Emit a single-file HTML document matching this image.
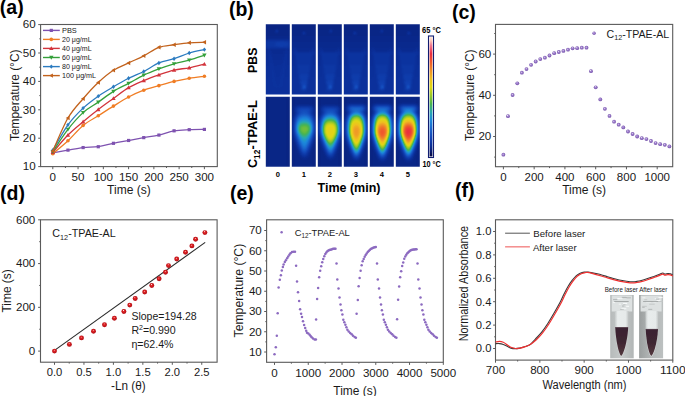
<!DOCTYPE html>
<html><head><meta charset="utf-8"><style>
html,body{margin:0;padding:0;background:#fff;}
svg{display:block;font-family:"Liberation Sans", sans-serif;}
</style></head><body>
<svg width="685" height="396" viewBox="0 0 685 396" fill="#1a1a1a">
<defs><radialGradient id="sp" cx="0.5" cy="0.5" r="0.5" fx="0.38" fy="0.32"><stop offset="0" stop-color="#f2ecfa"/><stop offset="0.35" stop-color="#a688d2"/><stop offset="1" stop-color="#7452aa"/></radialGradient>
<radialGradient id="rs" cx="0.5" cy="0.5" r="0.5" fx="0.42" fy="0.3"><stop offset="0" stop-color="#fff4f4"/><stop offset="0.28" stop-color="#e42a2a"/><stop offset="1" stop-color="#b00810"/></radialGradient>
<filter id="heat" color-interpolation-filters="sRGB" x="-20%" y="-20%" width="140%" height="140%"><feGaussianBlur stdDeviation="1.9"/><feComponentTransfer><feFuncR type="table" tableValues="0.024 0.027 0.030 0.033 0.035 0.038 0.042 0.049 0.056 0.063 0.070 0.077 0.084 0.091 0.098 0.103 0.105 0.106 0.108 0.111 0.122 0.132 0.143 0.154 0.176 0.205 0.233 0.262 0.302 0.373 0.445 0.516 0.587 0.652 0.716 0.780 0.844 0.885 0.899 0.913 0.928 0.941 0.941 0.941 0.941 0.941 0.941 0.941 0.941 0.941 0.940 0.935 0.929 0.924 0.919 0.922 0.927 0.933 0.938 0.949 0.968 0.986 0.994 1.000"/><feFuncG type="table" tableValues="0.024 0.055 0.086 0.114 0.139 0.164 0.187 0.209 0.230 0.251 0.273 0.299 0.326 0.352 0.379 0.408 0.440 0.473 0.505 0.536 0.565 0.593 0.622 0.650 0.666 0.677 0.688 0.698 0.711 0.729 0.746 0.764 0.782 0.797 0.811 0.825 0.839 0.837 0.816 0.795 0.773 0.751 0.708 0.665 0.623 0.580 0.534 0.486 0.438 0.390 0.344 0.303 0.262 0.221 0.180 0.228 0.296 0.363 0.431 0.522 0.646 0.771 0.840 0.902"/><feFuncB type="table" tableValues="0.251 0.319 0.388 0.450 0.505 0.559 0.605 0.634 0.662 0.691 0.719 0.738 0.756 0.774 0.791 0.807 0.821 0.836 0.850 0.859 0.820 0.781 0.741 0.702 0.631 0.546 0.461 0.375 0.304 0.268 0.233 0.197 0.161 0.141 0.124 0.106 0.088 0.083 0.094 0.105 0.115 0.126 0.133 0.140 0.147 0.154 0.159 0.163 0.166 0.170 0.177 0.194 0.212 0.230 0.248 0.309 0.380 0.452 0.523 0.590 0.652 0.715 0.781 0.847"/></feComponentTransfer></filter>
<filter id="heatp" color-interpolation-filters="sRGB" x="-20%" y="-20%" width="140%" height="140%"><feGaussianBlur stdDeviation="1.2"/><feComponentTransfer><feFuncR type="table" tableValues="0.024 0.027 0.030 0.033 0.035 0.038 0.042 0.049 0.056 0.063 0.070 0.077 0.084 0.091 0.098 0.103 0.105 0.106 0.108 0.111 0.122 0.132 0.143 0.154 0.176 0.205 0.233 0.262 0.302 0.373 0.445 0.516 0.587 0.652 0.716 0.780 0.844 0.885 0.899 0.913 0.928 0.941 0.941 0.941 0.941 0.941 0.941 0.941 0.941 0.941 0.940 0.935 0.929 0.924 0.919 0.922 0.927 0.933 0.938 0.949 0.968 0.986 0.994 1.000"/><feFuncG type="table" tableValues="0.024 0.055 0.086 0.114 0.139 0.164 0.187 0.209 0.230 0.251 0.273 0.299 0.326 0.352 0.379 0.408 0.440 0.473 0.505 0.536 0.565 0.593 0.622 0.650 0.666 0.677 0.688 0.698 0.711 0.729 0.746 0.764 0.782 0.797 0.811 0.825 0.839 0.837 0.816 0.795 0.773 0.751 0.708 0.665 0.623 0.580 0.534 0.486 0.438 0.390 0.344 0.303 0.262 0.221 0.180 0.228 0.296 0.363 0.431 0.522 0.646 0.771 0.840 0.902"/><feFuncB type="table" tableValues="0.251 0.319 0.388 0.450 0.505 0.559 0.605 0.634 0.662 0.691 0.719 0.738 0.756 0.774 0.791 0.807 0.821 0.836 0.850 0.859 0.820 0.781 0.741 0.702 0.631 0.546 0.461 0.375 0.304 0.268 0.233 0.197 0.161 0.141 0.124 0.106 0.088 0.083 0.094 0.105 0.115 0.126 0.133 0.140 0.147 0.154 0.159 0.163 0.166 0.170 0.177 0.194 0.212 0.230 0.248 0.309 0.380 0.452 0.523 0.590 0.652 0.715 0.781 0.847"/></feComponentTransfer></filter>
<linearGradient id="cbar" x1="0" y1="0" x2="0" y2="1"><stop offset="0" stop-color="#ffe6d8"/><stop offset="0.03" stop-color="#fcc8b8"/><stop offset="0.07" stop-color="#f07890"/><stop offset="0.14" stop-color="#ea2c40"/><stop offset="0.21" stop-color="#f05a2c"/><stop offset="0.28" stop-color="#f09028"/><stop offset="0.35" stop-color="#f0c020"/><stop offset="0.42" stop-color="#e0d814"/><stop offset="0.49" stop-color="#98c828"/><stop offset="0.56" stop-color="#48b450"/><stop offset="0.63" stop-color="#28a8b0"/><stop offset="0.7" stop-color="#1c88dc"/><stop offset="0.77" stop-color="#1a64cc"/><stop offset="0.84" stop-color="#1246b8"/><stop offset="0.91" stop-color="#0a2e98"/><stop offset="0.96" stop-color="#081a6c"/><stop offset="1" stop-color="#060640"/></linearGradient>
<clipPath id="cl00"><rect x="265.8" y="24.2" width="24" height="70.4"/></clipPath>
<clipPath id="cl10"><rect x="265.8" y="96.7" width="24" height="70"/></clipPath>
<clipPath id="cl01"><rect x="291.8" y="24.2" width="24" height="70.4"/></clipPath>
<clipPath id="cl11"><rect x="291.8" y="96.7" width="24" height="70"/></clipPath>
<clipPath id="cl02"><rect x="317.8" y="24.2" width="24" height="70.4"/></clipPath>
<clipPath id="cl12"><rect x="317.8" y="96.7" width="24" height="70"/></clipPath>
<clipPath id="cl03"><rect x="343.8" y="24.2" width="24" height="70.4"/></clipPath>
<clipPath id="cl13"><rect x="343.8" y="96.7" width="24" height="70"/></clipPath>
<clipPath id="cl04"><rect x="369.8" y="24.2" width="24" height="70.4"/></clipPath>
<clipPath id="cl14"><rect x="369.8" y="96.7" width="24" height="70"/></clipPath>
<clipPath id="cl05"><rect x="395.8" y="24.2" width="24" height="70.4"/></clipPath>
<clipPath id="cl15"><rect x="395.8" y="96.7" width="24" height="70"/></clipPath>
<linearGradient id="pbsv" x1="0" y1="0" x2="0" y2="1"><stop offset="0" stop-color="#101010"/><stop offset="0.3" stop-color="#141414"/><stop offset="0.6" stop-color="#181818"/><stop offset="1" stop-color="#1a1a1a"/></linearGradient>
<linearGradient id="ph1" x1="0" y1="0" x2="1" y2="0"><stop offset="0" stop-color="#b6baba"/><stop offset="0.5" stop-color="#c6caca"/><stop offset="1" stop-color="#b2b6b6"/></linearGradient>
<linearGradient id="ph2" x1="0" y1="0" x2="1" y2="0"><stop offset="0" stop-color="#9a9e9e"/><stop offset="0.5" stop-color="#b4b8b8"/><stop offset="1" stop-color="#bcc0c0"/></linearGradient>
<linearGradient id="tb" x1="0" y1="0" x2="1" y2="0"><stop offset="0" stop-color="#c4c8c8"/><stop offset="0.2" stop-color="#e8ecec"/><stop offset="0.8" stop-color="#e6eaea"/><stop offset="1" stop-color="#c0c4c4"/></linearGradient>
<linearGradient id="liq" x1="0" y1="0" x2="0" y2="1"><stop offset="0" stop-color="#3a2230"/><stop offset="0.5" stop-color="#3e2632"/><stop offset="1" stop-color="#54383e"/></linearGradient>
<filter id="soft" x="-10%" y="-10%" width="120%" height="120%"><feGaussianBlur stdDeviation="0.5"/></filter></defs>
<rect width="685" height="396" fill="#fff"/>
<rect x="40.6" y="24.5" width="176.7" height="142.1" fill="none" stroke="#5a5a5a" stroke-width="1.1"/>
<line x1="52.8" y1="166.6" x2="52.8" y2="169.2" stroke="#5a5a5a" stroke-width="1" />
<line x1="78.06" y1="166.6" x2="78.06" y2="169.2" stroke="#5a5a5a" stroke-width="1" />
<line x1="103.33" y1="166.6" x2="103.33" y2="169.2" stroke="#5a5a5a" stroke-width="1" />
<line x1="128.59" y1="166.6" x2="128.59" y2="169.2" stroke="#5a5a5a" stroke-width="1" />
<line x1="153.86" y1="166.6" x2="153.86" y2="169.2" stroke="#5a5a5a" stroke-width="1" />
<line x1="179.12" y1="166.6" x2="179.12" y2="169.2" stroke="#5a5a5a" stroke-width="1" />
<line x1="204.39" y1="166.6" x2="204.39" y2="169.2" stroke="#5a5a5a" stroke-width="1" />
<line x1="65.43" y1="166.6" x2="65.43" y2="168" stroke="#5a5a5a" stroke-width="1" />
<line x1="90.7" y1="166.6" x2="90.7" y2="168" stroke="#5a5a5a" stroke-width="1" />
<line x1="115.96" y1="166.6" x2="115.96" y2="168" stroke="#5a5a5a" stroke-width="1" />
<line x1="141.23" y1="166.6" x2="141.23" y2="168" stroke="#5a5a5a" stroke-width="1" />
<line x1="166.49" y1="166.6" x2="166.49" y2="168" stroke="#5a5a5a" stroke-width="1" />
<line x1="191.76" y1="166.6" x2="191.76" y2="168" stroke="#5a5a5a" stroke-width="1" />
<line x1="38.2" y1="166.6" x2="40.6" y2="166.6" stroke="#5a5a5a" stroke-width="1" />
<line x1="38.2" y1="138.2" x2="40.6" y2="138.2" stroke="#5a5a5a" stroke-width="1" />
<line x1="38.2" y1="109.8" x2="40.6" y2="109.8" stroke="#5a5a5a" stroke-width="1" />
<line x1="38.2" y1="81.4" x2="40.6" y2="81.4" stroke="#5a5a5a" stroke-width="1" />
<line x1="38.2" y1="53" x2="40.6" y2="53" stroke="#5a5a5a" stroke-width="1" />
<line x1="38.2" y1="24.6" x2="40.6" y2="24.6" stroke="#5a5a5a" stroke-width="1" />
<line x1="39.3" y1="152.4" x2="40.6" y2="152.4" stroke="#5a5a5a" stroke-width="1" />
<line x1="39.3" y1="124" x2="40.6" y2="124" stroke="#5a5a5a" stroke-width="1" />
<line x1="39.3" y1="95.6" x2="40.6" y2="95.6" stroke="#5a5a5a" stroke-width="1" />
<line x1="39.3" y1="67.2" x2="40.6" y2="67.2" stroke="#5a5a5a" stroke-width="1" />
<line x1="39.3" y1="38.8" x2="40.6" y2="38.8" stroke="#5a5a5a" stroke-width="1" />
<text x="52.8" y="180.9" font-size="11.6" text-anchor="middle" textLength="6.45" lengthAdjust="spacingAndGlyphs" >0</text>
<text x="78.06" y="180.9" font-size="11.6" text-anchor="middle" textLength="12.9" lengthAdjust="spacingAndGlyphs" >50</text>
<text x="103.33" y="180.9" font-size="11.6" text-anchor="middle" textLength="19.35" lengthAdjust="spacingAndGlyphs" >100</text>
<text x="128.59" y="180.9" font-size="11.6" text-anchor="middle" textLength="19.35" lengthAdjust="spacingAndGlyphs" >150</text>
<text x="153.86" y="180.9" font-size="11.6" text-anchor="middle" textLength="19.35" lengthAdjust="spacingAndGlyphs" >200</text>
<text x="179.12" y="180.9" font-size="11.6" text-anchor="middle" textLength="19.35" lengthAdjust="spacingAndGlyphs" >250</text>
<text x="204.39" y="180.9" font-size="11.6" text-anchor="middle" textLength="19.35" lengthAdjust="spacingAndGlyphs" >300</text>
<text x="35.6" y="170.4" font-size="11.6" text-anchor="end" textLength="12.9" lengthAdjust="spacingAndGlyphs" >10</text>
<text x="35.6" y="142" font-size="11.6" text-anchor="end" textLength="12.9" lengthAdjust="spacingAndGlyphs" >20</text>
<text x="35.6" y="113.6" font-size="11.6" text-anchor="end" textLength="12.9" lengthAdjust="spacingAndGlyphs" >30</text>
<text x="35.6" y="85.2" font-size="11.6" text-anchor="end" textLength="12.9" lengthAdjust="spacingAndGlyphs" >40</text>
<text x="35.6" y="56.8" font-size="11.6" text-anchor="end" textLength="12.9" lengthAdjust="spacingAndGlyphs" >50</text>
<text x="35.6" y="28.4" font-size="11.6" text-anchor="end" textLength="12.9" lengthAdjust="spacingAndGlyphs" >60</text>
<text x="128.9" y="194.4" font-size="12" text-anchor="middle" textLength="43.6" lengthAdjust="spacingAndGlyphs" >Time (s)</text>
<text x="19.4" y="95.3" font-size="12" text-anchor="middle" textLength="91.5" lengthAdjust="spacingAndGlyphs" transform="rotate(-90 19.4 95.3)" >Temperature (&#176;C)</text>
<path d="M52.8 152.97 C55.33 152.49 62.91 151.03 67.96 150.13 C73.01 149.23 78.06 148.14 83.12 147.57 C88.17 147 93.22 147.43 98.28 146.72 C103.33 146.01 108.38 144.35 113.44 143.31 C118.49 142.27 123.54 141.42 128.59 140.47 C133.65 139.53 138.7 138.53 143.75 137.63 C148.81 136.73 153.86 136.21 158.91 135.08 C163.97 133.94 169.02 131.72 174.07 130.82 C179.12 129.92 184.18 129.92 189.23 129.68 C194.28 129.44 201.86 129.44 204.39 129.4" fill="none" stroke="#7e52b0" stroke-width="1.3"/>
<rect x="51.2" y="151.37" width="3.2" height="3.2" fill="#7e52b0"/>
<rect x="66.36" y="148.53" width="3.2" height="3.2" fill="#7e52b0"/>
<rect x="81.52" y="145.97" width="3.2" height="3.2" fill="#7e52b0"/>
<rect x="96.68" y="145.12" width="3.2" height="3.2" fill="#7e52b0"/>
<rect x="111.84" y="141.71" width="3.2" height="3.2" fill="#7e52b0"/>
<rect x="127" y="138.87" width="3.2" height="3.2" fill="#7e52b0"/>
<rect x="142.15" y="136.03" width="3.2" height="3.2" fill="#7e52b0"/>
<rect x="157.31" y="133.48" width="3.2" height="3.2" fill="#7e52b0"/>
<rect x="172.47" y="129.22" width="3.2" height="3.2" fill="#7e52b0"/>
<rect x="187.63" y="128.08" width="3.2" height="3.2" fill="#7e52b0"/>
<rect x="202.79" y="127.8" width="3.2" height="3.2" fill="#7e52b0"/>
<path d="M52.8 153.82 C55.33 151.64 62.91 145.49 67.96 140.76 C73.01 136.02 78.06 129.59 83.12 125.42 C88.17 121.25 93.22 118.98 98.28 115.76 C103.33 112.55 108.38 109.23 113.44 106.11 C118.49 102.98 123.54 99.67 128.59 97.02 C133.65 94.37 138.7 92.1 143.75 90.2 C148.81 88.31 153.86 87.13 158.91 85.66 C163.97 84.19 169.02 82.63 174.07 81.4 C179.12 80.17 184.18 79.13 189.23 78.28 C194.28 77.42 201.86 76.62 204.39 76.29" fill="none" stroke="#f07d24" stroke-width="1.3"/>
<circle cx="52.8" cy="153.82" r="1.8" fill="#f07d24"/>
<circle cx="67.96" cy="140.76" r="1.8" fill="#f07d24"/>
<circle cx="83.12" cy="125.42" r="1.8" fill="#f07d24"/>
<circle cx="98.28" cy="115.76" r="1.8" fill="#f07d24"/>
<circle cx="113.44" cy="106.11" r="1.8" fill="#f07d24"/>
<circle cx="128.59" cy="97.02" r="1.8" fill="#f07d24"/>
<circle cx="143.75" cy="90.2" r="1.8" fill="#f07d24"/>
<circle cx="158.91" cy="85.66" r="1.8" fill="#f07d24"/>
<circle cx="174.07" cy="81.4" r="1.8" fill="#f07d24"/>
<circle cx="189.23" cy="78.28" r="1.8" fill="#f07d24"/>
<circle cx="204.39" cy="76.29" r="1.8" fill="#f07d24"/>
<path d="M52.8 152.4 C55.33 149.51 62.91 140.19 67.96 135.08 C73.01 129.96 78.06 125.99 83.12 121.73 C88.17 117.47 93.22 113.4 98.28 109.52 C103.33 105.63 108.38 102.08 113.44 98.44 C118.49 94.8 123.54 90.63 128.59 87.65 C133.65 84.67 138.7 82.68 143.75 80.55 C148.81 78.42 153.86 76.62 158.91 74.87 C163.97 73.12 169.02 71.22 174.07 70.04 C179.12 68.86 184.18 68.76 189.23 67.77 C194.28 66.77 201.86 64.69 204.39 64.08" fill="none" stroke="#d2343c" stroke-width="1.3"/>
<path d="M52.8 150.2L55 154.05L50.6 154.05Z" fill="#d2343c"/>
<path d="M67.96 132.88L70.16 136.73L65.76 136.73Z" fill="#d2343c"/>
<path d="M83.12 119.53L85.32 123.38L80.92 123.38Z" fill="#d2343c"/>
<path d="M98.28 107.32L100.48 111.17L96.08 111.17Z" fill="#d2343c"/>
<path d="M113.44 96.24L115.64 100.09L111.24 100.09Z" fill="#d2343c"/>
<path d="M128.59 85.45L130.79 89.3L126.39 89.3Z" fill="#d2343c"/>
<path d="M143.75 78.35L145.95 82.2L141.55 82.2Z" fill="#d2343c"/>
<path d="M158.91 72.67L161.11 76.52L156.71 76.52Z" fill="#d2343c"/>
<path d="M174.07 67.84L176.27 71.69L171.87 71.69Z" fill="#d2343c"/>
<path d="M189.23 65.57L191.43 69.42L187.03 69.42Z" fill="#d2343c"/>
<path d="M204.39 61.88L206.59 65.73L202.19 65.73Z" fill="#d2343c"/>
<path d="M52.8 151.55 C55.33 147.86 62.91 135.88 67.96 129.4 C73.01 122.91 78.06 117.18 83.12 112.64 C88.17 108.1 93.22 105.68 98.28 102.13 C103.33 98.58 108.38 94.46 113.44 91.34 C118.49 88.22 123.54 86.09 128.59 83.39 C133.65 80.69 138.7 77.57 143.75 75.15 C148.81 72.74 153.86 70.8 158.91 68.9 C163.97 67.01 169.02 65.26 174.07 63.79 C179.12 62.32 184.18 61.52 189.23 60.1 C194.28 58.68 201.86 56.08 204.39 55.27" fill="none" stroke="#34a03a" stroke-width="1.3"/>
<path d="M52.8 153.75L55 149.9L50.6 149.9Z" fill="#34a03a"/>
<path d="M67.96 131.6L70.16 127.75L65.76 127.75Z" fill="#34a03a"/>
<path d="M83.12 114.84L85.32 110.99L80.92 110.99Z" fill="#34a03a"/>
<path d="M98.28 104.33L100.48 100.48L96.08 100.48Z" fill="#34a03a"/>
<path d="M113.44 93.54L115.64 89.69L111.24 89.69Z" fill="#34a03a"/>
<path d="M128.59 85.59L130.79 81.74L126.39 81.74Z" fill="#34a03a"/>
<path d="M143.75 77.35L145.95 73.5L141.55 73.5Z" fill="#34a03a"/>
<path d="M158.91 71.1L161.11 67.25L156.71 67.25Z" fill="#34a03a"/>
<path d="M174.07 65.99L176.27 62.14L171.87 62.14Z" fill="#34a03a"/>
<path d="M189.23 62.3L191.43 58.45L187.03 58.45Z" fill="#34a03a"/>
<path d="M204.39 57.47L206.59 53.62L202.19 53.62Z" fill="#34a03a"/>
<path d="M52.8 150.13 C55.33 145.92 62.91 131.86 67.96 124.85 C73.01 117.85 78.06 112.88 83.12 108.1 C88.17 103.32 93.22 99.72 98.28 96.17 C103.33 92.62 108.38 89.78 113.44 86.8 C118.49 83.81 123.54 80.83 128.59 78.28 C133.65 75.72 138.7 74.02 143.75 71.46 C148.81 68.9 153.86 65.07 158.91 62.94 C163.97 60.81 169.02 60.34 174.07 58.68 C179.12 57.02 184.18 54.51 189.23 53 C194.28 51.49 201.86 50.16 204.39 49.59" fill="none" stroke="#2b7bc0" stroke-width="1.3"/>
<path d="M52.8 147.93L54.56 150.13L52.8 152.33L51.04 150.13Z" fill="#2b7bc0"/>
<path d="M67.96 122.65L69.72 124.85L67.96 127.05L66.2 124.85Z" fill="#2b7bc0"/>
<path d="M83.12 105.9L84.88 108.1L83.12 110.3L81.36 108.1Z" fill="#2b7bc0"/>
<path d="M98.28 93.97L100.04 96.17L98.28 98.37L96.52 96.17Z" fill="#2b7bc0"/>
<path d="M113.44 84.6L115.2 86.8L113.44 89L111.68 86.8Z" fill="#2b7bc0"/>
<path d="M128.59 76.08L130.35 78.28L128.59 80.48L126.83 78.28Z" fill="#2b7bc0"/>
<path d="M143.75 69.26L145.51 71.46L143.75 73.66L141.99 71.46Z" fill="#2b7bc0"/>
<path d="M158.91 60.74L160.67 62.94L158.91 65.14L157.15 62.94Z" fill="#2b7bc0"/>
<path d="M174.07 56.48L175.83 58.68L174.07 60.88L172.31 58.68Z" fill="#2b7bc0"/>
<path d="M189.23 50.8L190.99 53L189.23 55.2L187.47 53Z" fill="#2b7bc0"/>
<path d="M204.39 47.39L206.15 49.59L204.39 51.79L202.63 49.59Z" fill="#2b7bc0"/>
<path d="M52.8 150.98 C55.33 145.49 62.91 126.75 67.96 118.04 C73.01 109.33 78.06 104.64 83.12 98.72 C88.17 92.81 93.22 87.27 98.28 82.54 C103.33 77.8 108.38 73.59 113.44 70.32 C118.49 67.06 123.54 65.35 128.59 62.94 C133.65 60.53 138.7 58.44 143.75 55.84 C148.81 53.24 153.86 49.17 158.91 47.32 C163.97 45.47 169.02 45.52 174.07 44.76 C179.12 44.01 184.18 43.2 189.23 42.78 C194.28 42.35 201.86 42.3 204.39 42.21" fill="none" stroke="#c2621c" stroke-width="1.3"/>
<path d="M50.6 150.98L54.45 148.78L54.45 153.18Z" fill="#c2621c"/>
<path d="M65.76 118.04L69.61 115.84L69.61 120.24Z" fill="#c2621c"/>
<path d="M80.92 98.72L84.77 96.52L84.77 100.92Z" fill="#c2621c"/>
<path d="M96.08 82.54L99.93 80.34L99.93 84.74Z" fill="#c2621c"/>
<path d="M111.24 70.32L115.09 68.12L115.09 72.52Z" fill="#c2621c"/>
<path d="M126.39 62.94L130.25 60.74L130.25 65.14Z" fill="#c2621c"/>
<path d="M141.55 55.84L145.4 53.64L145.4 58.04Z" fill="#c2621c"/>
<path d="M156.71 47.32L160.56 45.12L160.56 49.52Z" fill="#c2621c"/>
<path d="M171.87 44.76L175.72 42.56L175.72 46.96Z" fill="#c2621c"/>
<path d="M187.03 42.78L190.88 40.58L190.88 44.98Z" fill="#c2621c"/>
<path d="M202.19 42.21L206.04 40.01L206.04 44.41Z" fill="#c2621c"/>
<line x1="43" y1="30.4" x2="59.8" y2="30.4" stroke="#7e52b0" stroke-width="1.4"/>
<rect x="49.7" y="28.8" width="3.2" height="3.2" fill="#7e52b0"/>
<text x="62" y="33" font-size="7.2" text-anchor="start" textLength="14.8" lengthAdjust="spacingAndGlyphs" >PBS</text>
<line x1="43" y1="39.4" x2="59.8" y2="39.4" stroke="#f07d24" stroke-width="1.4"/>
<circle cx="51.3" cy="39.4" r="1.8" fill="#f07d24"/>
<text x="62" y="42" font-size="7.2" text-anchor="start" textLength="29.6" lengthAdjust="spacingAndGlyphs" >20 &#956;g/mL</text>
<line x1="43" y1="48.4" x2="59.8" y2="48.4" stroke="#d2343c" stroke-width="1.4"/>
<path d="M51.3 46.2L53.5 50.05L49.1 50.05Z" fill="#d2343c"/>
<text x="62" y="51" font-size="7.2" text-anchor="start" textLength="29.6" lengthAdjust="spacingAndGlyphs" >40 &#956;g/mL</text>
<line x1="43" y1="57.5" x2="59.8" y2="57.5" stroke="#34a03a" stroke-width="1.4"/>
<path d="M51.3 59.7L53.5 55.85L49.1 55.85Z" fill="#34a03a"/>
<text x="62" y="60.1" font-size="7.2" text-anchor="start" textLength="29.6" lengthAdjust="spacingAndGlyphs" >60 &#956;g/mL</text>
<line x1="43" y1="66.6" x2="59.8" y2="66.6" stroke="#2b7bc0" stroke-width="1.4"/>
<path d="M51.3 64.4L53.06 66.6L51.3 68.8L49.54 66.6Z" fill="#2b7bc0"/>
<text x="62" y="69.2" font-size="7.2" text-anchor="start" textLength="29.6" lengthAdjust="spacingAndGlyphs" >80 &#956;g/mL</text>
<line x1="43" y1="75.6" x2="59.8" y2="75.6" stroke="#c2621c" stroke-width="1.4"/>
<path d="M49.1 75.6L52.95 73.4L52.95 77.8Z" fill="#c2621c"/>
<text x="62" y="78.2" font-size="7.2" text-anchor="start" textLength="34.1" lengthAdjust="spacingAndGlyphs" >100 &#956;g/mL</text>
<g clip-path="url(#cl00)"><g filter="url(#heatp)">
<rect x="261.8" y="20.2" width="32" height="78.4" fill="url(#pbsv)"/>
<rect x="265.8" y="40.2" width="24" height="8" fill="#1d1d1d"/>
<ellipse cx="281.8" cy="44.2" rx="7" ry="3" fill="#222222"/>
<path d="M268.8 48.2 L274.8 86.2 L280.8 86.2 L286.8 48.2" fill="none" stroke="#1f1f1f" stroke-width="0.7"/>
<circle cx="276.8" cy="31.2" r="0.9" fill="#2b2b2b"/>
</g></g>
<g clip-path="url(#cl01)"><g filter="url(#heatp)">
<rect x="287.8" y="20.2" width="32" height="78.4" fill="url(#pbsv)"/>
<rect x="291.8" y="52.2" width="24" height="3" fill="#181818"/>
<path d="M295.8 52.2 L311.8 52.2 L306 90.2 L301.6 90.2 Z" fill="#1b1b1b"/>
<path d="M297.3 64.2 L310.3 64.2 L306 90.2 L301.6 90.2 Z" fill="#1e1e1e"/>
<path d="M298.8 74.2 L308.8 74.2 L306 90.2 L301.6 90.2 Z" fill="#222222"/>
<path d="M300.2 81.2 L307.4 81.2 L306 90.2 L301.6 90.2 Z" fill="#262626"/>
<path d="M294.8 48.2 L300.8 86.2 L306.8 86.2 L312.8 48.2" fill="none" stroke="#1f1f1f" stroke-width="0.7"/>
<circle cx="304.3" cy="86.7" r="1.3" fill="#3d3d3d"/>
<circle cx="303.8" cy="33.2" r="0.9" fill="#2b2b2b"/>
</g></g>
<g clip-path="url(#cl02)"><g filter="url(#heatp)">
<rect x="313.8" y="20.2" width="32" height="78.4" fill="url(#pbsv)"/>
<rect x="317.8" y="52.2" width="24" height="3" fill="#181818"/>
<path d="M321.8 52.2 L337.8 52.2 L332 90.2 L327.6 90.2 Z" fill="#1b1b1b"/>
<path d="M323.3 64.2 L336.3 64.2 L332 90.2 L327.6 90.2 Z" fill="#1e1e1e"/>
<path d="M324.8 74.2 L334.8 74.2 L332 90.2 L327.6 90.2 Z" fill="#222222"/>
<path d="M326.2 81.2 L333.4 81.2 L332 90.2 L327.6 90.2 Z" fill="#262626"/>
<path d="M320.8 48.2 L326.8 86.2 L332.8 86.2 L338.8 48.2" fill="none" stroke="#1f1f1f" stroke-width="0.7"/>
<circle cx="330.3" cy="86.7" r="1.3" fill="#3d3d3d"/>
<circle cx="330.8" cy="31.2" r="0.9" fill="#2b2b2b"/>
</g></g>
<g clip-path="url(#cl03)"><g filter="url(#heatp)">
<rect x="339.8" y="20.2" width="32" height="78.4" fill="url(#pbsv)"/>
<rect x="343.8" y="52.2" width="24" height="3" fill="#181818"/>
<path d="M347.8 52.2 L363.8 52.2 L358 90.2 L353.6 90.2 Z" fill="#1b1b1b"/>
<path d="M349.3 64.2 L362.3 64.2 L358 90.2 L353.6 90.2 Z" fill="#1e1e1e"/>
<path d="M350.8 74.2 L360.8 74.2 L358 90.2 L353.6 90.2 Z" fill="#222222"/>
<path d="M352.2 81.2 L359.4 81.2 L358 90.2 L353.6 90.2 Z" fill="#262626"/>
<path d="M346.8 48.2 L352.8 86.2 L358.8 86.2 L364.8 48.2" fill="none" stroke="#1f1f1f" stroke-width="0.7"/>
<circle cx="356.3" cy="86.7" r="1.3" fill="#3d3d3d"/>
<circle cx="354.8" cy="33.2" r="0.9" fill="#2b2b2b"/>
</g></g>
<g clip-path="url(#cl04)"><g filter="url(#heatp)">
<rect x="365.8" y="20.2" width="32" height="78.4" fill="url(#pbsv)"/>
<rect x="369.8" y="52.2" width="24" height="3" fill="#181818"/>
<path d="M373.8 52.2 L389.8 52.2 L384 90.2 L379.6 90.2 Z" fill="#1b1b1b"/>
<path d="M375.3 64.2 L388.3 64.2 L384 90.2 L379.6 90.2 Z" fill="#1e1e1e"/>
<path d="M376.8 74.2 L386.8 74.2 L384 90.2 L379.6 90.2 Z" fill="#222222"/>
<path d="M378.2 81.2 L385.4 81.2 L384 90.2 L379.6 90.2 Z" fill="#262626"/>
<path d="M372.8 48.2 L378.8 86.2 L384.8 86.2 L390.8 48.2" fill="none" stroke="#1f1f1f" stroke-width="0.7"/>
<circle cx="382.3" cy="86.7" r="1.3" fill="#3d3d3d"/>
<circle cx="381.8" cy="31.2" r="0.9" fill="#2b2b2b"/>
</g></g>
<g clip-path="url(#cl05)"><g filter="url(#heatp)">
<rect x="391.8" y="20.2" width="32" height="78.4" fill="url(#pbsv)"/>
<rect x="395.8" y="52.2" width="24" height="3" fill="#181818"/>
<path d="M399.8 52.2 L415.8 52.2 L410 90.2 L405.6 90.2 Z" fill="#1b1b1b"/>
<path d="M401.3 64.2 L414.3 64.2 L410 90.2 L405.6 90.2 Z" fill="#1e1e1e"/>
<path d="M402.8 74.2 L412.8 74.2 L410 90.2 L405.6 90.2 Z" fill="#222222"/>
<path d="M404.2 81.2 L411.4 81.2 L410 90.2 L405.6 90.2 Z" fill="#262626"/>
<path d="M398.8 48.2 L404.8 86.2 L410.8 86.2 L416.8 48.2" fill="none" stroke="#1f1f1f" stroke-width="0.7"/>
<circle cx="408.3" cy="86.7" r="1.3" fill="#3d3d3d"/>
<circle cx="408.8" cy="33.2" r="0.9" fill="#2b2b2b"/>
</g></g>
<g clip-path="url(#cl10)"><g filter="url(#heat)">
<rect x="261.8" y="92.7" width="32" height="78" fill="#121212"/>
<rect x="263.8" y="92.7" width="3" height="78" fill="#0f0f0f"/>
<rect x="288.8" y="92.7" width="3" height="78" fill="#0f0f0f"/>
</g></g>
<g clip-path="url(#cl11)"><g filter="url(#heat)">
<rect x="287.8" y="92.7" width="32" height="78" fill="#121212"/>
<rect x="289.8" y="92.7" width="3" height="78" fill="#0f0f0f"/>
<rect x="314.8" y="92.7" width="3" height="78" fill="#0f0f0f"/>
<rect x="296.4" y="108.4" width="16" height="2.4" fill="#424242"/>
<path d="M304.4 111.5 C313.23 111.5 314 118.1 314 128 C314 136.85 306.32 154.55 304.4 157.5 C302.48 154.55 294.8 136.85 294.8 128 C294.8 118.1 295.57 111.5 304.4 111.5 Z" fill="#2b2b2b"/>
<path d="M304.4 114 C312.5 114 313.2 120 313.2 129 C313.2 136.35 306.16 151.05 304.4 153.5 C302.64 151.05 295.6 136.35 295.6 129 C295.6 120 296.3 114 304.4 114 Z" fill="#404040"/>
<path d="M304.4 117.5 C311.76 117.5 312.4 122.3 312.4 129.5 C312.4 135.2 306 146.6 304.4 148.5 C302.8 146.6 296.4 135.2 296.4 129.5 C296.4 122.3 297.04 117.5 304.4 117.5 Z" fill="#4f4f4f"/>
<path d="M304.4 121 C311.21 121 311.8 124.6 311.8 130 C311.8 133.3 305.88 139.9 304.4 141 C302.92 139.9 297 133.3 297 130 C297 124.6 297.59 121 304.4 121 Z" fill="#616161"/>
<path d="M304.4 123.5 C310.66 123.5 311.2 126.1 311.2 130 C311.2 132.1 305.76 136.3 304.4 137 C303.04 136.3 297.6 132.1 297.6 130 C297.6 126.1 298.14 123.5 304.4 123.5 Z" fill="#707070"/>
<path d="M304.4 125 C309.74 125 310.2 126.8 310.2 129.5 C310.2 131.15 305.56 134.45 304.4 135 C303.24 134.45 298.6 131.15 298.6 129.5 C298.6 126.8 299.06 125 304.4 125 Z" fill="#7a7a7a"/>
</g></g>
<g clip-path="url(#cl12)"><g filter="url(#heat)">
<rect x="313.8" y="92.7" width="32" height="78" fill="#121212"/>
<rect x="315.8" y="92.7" width="3" height="78" fill="#0f0f0f"/>
<rect x="340.8" y="92.7" width="3" height="78" fill="#0f0f0f"/>
<rect x="322.4" y="108.4" width="16" height="2.4" fill="#424242"/>
<path d="M330.4 111.5 C339.42 111.5 340.2 118.1 340.2 128 C340.2 137 332.36 155 330.4 158 C328.44 155 320.6 137 320.6 128 C320.6 118.1 321.38 111.5 330.4 111.5 Z" fill="#303030"/>
<path d="M330.4 114 C338.77 114 339.5 120.4 339.5 130 C339.5 137.5 332.22 152.5 330.4 155 C328.58 152.5 321.3 137.5 321.3 130 C321.3 120.4 322.03 114 330.4 114 Z" fill="#4c4c4c"/>
<path d="M330.4 117.5 C338.04 117.5 338.7 122.9 338.7 131 C338.7 136.55 332.06 147.65 330.4 149.5 C328.74 147.65 322.1 136.55 322.1 131 C322.1 122.9 322.76 117.5 330.4 117.5 Z" fill="#6b6b6b"/>
<path d="M330.4 121 C337.12 121 337.7 125.2 337.7 131.5 C337.7 135.4 331.86 143.2 330.4 144.5 C328.94 143.2 323.1 135.4 323.1 131.5 C323.1 125.2 323.68 121 330.4 121 Z" fill="#8a8a8a"/>
<path d="M330.4 124 C336.2 124 336.7 127 336.7 131.5 C336.7 134.35 331.66 140.05 330.4 141 C329.14 140.05 324.1 134.35 324.1 131.5 C324.1 127 324.6 124 330.4 124 Z" fill="#999999"/>
</g></g>
<g clip-path="url(#cl13)"><g filter="url(#heat)">
<rect x="339.8" y="92.7" width="32" height="78" fill="#121212"/>
<rect x="341.8" y="92.7" width="3" height="78" fill="#0f0f0f"/>
<rect x="366.8" y="92.7" width="3" height="78" fill="#0f0f0f"/>
<rect x="348.4" y="107.4" width="16" height="2.4" fill="#6b6b6b"/>
<path d="M356.4 111 C365.14 111 365.9 118.6 365.9 130 C365.9 138.85 358.3 156.55 356.4 159.5 C354.5 156.55 346.9 138.85 346.9 130 C346.9 118.6 347.66 111 356.4 111 Z" fill="#333333"/>
<path d="M356.4 112.5 C364.31 112.5 365 119.5 365 130 C365 138.1 358.12 154.3 356.4 157 C354.68 154.3 347.8 138.1 347.8 130 C347.8 119.5 348.49 112.5 356.4 112.5 Z" fill="#525252"/>
<path d="M356.4 114 C363.58 114 364.2 120.8 364.2 131 C364.2 137.9 357.96 151.7 356.4 154 C354.84 151.7 348.6 137.9 348.6 131 C348.6 120.8 349.22 114 356.4 114 Z" fill="#707070"/>
<path d="M356.4 117 C362.84 117 363.4 122.6 363.4 131 C363.4 136.85 357.8 148.55 356.4 150.5 C355 148.55 349.4 136.85 349.4 131 C349.4 122.6 349.96 117 356.4 117 Z" fill="#919191"/>
<path d="M356.4 122 C361.55 122 362 126 362 132 C362 135.9 357.52 143.7 356.4 145 C355.28 143.7 350.8 135.9 350.8 132 C350.8 126 351.25 122 356.4 122 Z" fill="#a6a6a6"/>
<path d="M356.4 126 C360.45 126 360.8 128.6 360.8 132.5 C360.8 134.75 357.28 139.25 356.4 140 C355.52 139.25 352 134.75 352 132.5 C352 128.6 352.35 126 356.4 126 Z" fill="#b5b5b5"/>
</g></g>
<g clip-path="url(#cl14)"><g filter="url(#heat)">
<rect x="365.8" y="92.7" width="32" height="78" fill="#121212"/>
<rect x="367.8" y="92.7" width="3" height="78" fill="#0f0f0f"/>
<rect x="392.8" y="92.7" width="3" height="78" fill="#0f0f0f"/>
<rect x="374.4" y="107.4" width="16" height="2.4" fill="#6b6b6b"/>
<path d="M382.4 110.5 C391.32 110.5 392.1 118.3 392.1 130 C392.1 139 384.34 157 382.4 160 C380.46 157 372.7 139 372.7 130 C372.7 118.3 373.48 110.5 382.4 110.5 Z" fill="#333333"/>
<path d="M382.4 112 C390.59 112 391.3 119.2 391.3 130 C391.3 138.25 384.18 154.75 382.4 157.5 C380.62 154.75 373.5 138.25 373.5 130 C373.5 119.2 374.21 112 382.4 112 Z" fill="#525252"/>
<path d="M382.4 113.5 C389.94 113.5 390.6 120.5 390.6 131 C390.6 138.05 384.04 152.15 382.4 154.5 C380.76 152.15 374.2 138.05 374.2 131 C374.2 120.5 374.86 113.5 382.4 113.5 Z" fill="#707070"/>
<path d="M382.4 116 C389.21 116 389.8 122 389.8 131 C389.8 137 383.88 149 382.4 151 C380.92 149 375 137 375 131 C375 122 375.59 116 382.4 116 Z" fill="#949494"/>
<path d="M382.4 121 C388.1 121 388.6 125.4 388.6 132 C388.6 136.2 383.64 144.6 382.4 146 C381.16 144.6 376.2 136.2 376.2 132 C376.2 125.4 376.7 121 382.4 121 Z" fill="#adadad"/>
<path d="M382.4 124.5 C387.37 124.5 387.8 127.7 387.8 132.5 C387.8 135.35 383.48 141.05 382.4 142 C381.32 141.05 377 135.35 377 132.5 C377 127.7 377.43 124.5 382.4 124.5 Z" fill="#bfbfbf"/>
<path d="M382.4 127.5 C386.26 127.5 386.6 129.7 386.6 133 C386.6 134.65 383.24 137.95 382.4 138.5 C381.56 137.95 378.2 134.65 378.2 133 C378.2 129.7 378.54 127.5 382.4 127.5 Z" fill="#cccccc"/>
</g></g>
<g clip-path="url(#cl15)"><g filter="url(#heat)">
<rect x="391.8" y="92.7" width="32" height="78" fill="#121212"/>
<rect x="393.8" y="92.7" width="3" height="78" fill="#0f0f0f"/>
<rect x="418.8" y="92.7" width="3" height="78" fill="#0f0f0f"/>
<rect x="400.4" y="107.4" width="16" height="2.4" fill="#6b6b6b"/>
<path d="M408.4 110 C417.51 110 418.3 118 418.3 130 C418.3 139 410.38 157 408.4 160 C406.42 157 398.5 139 398.5 130 C398.5 118 399.29 110 408.4 110 Z" fill="#333333"/>
<path d="M408.4 111.5 C416.86 111.5 417.6 118.9 417.6 130 C417.6 138.4 410.24 155.2 408.4 158 C406.56 155.2 399.2 138.4 399.2 130 C399.2 118.9 399.94 111.5 408.4 111.5 Z" fill="#525252"/>
<path d="M408.4 113 C416.22 113 416.9 120.2 416.9 131 C416.9 138.2 410.1 152.6 408.4 155 C406.7 152.6 399.9 138.2 399.9 131 C399.9 120.2 400.58 113 408.4 113 Z" fill="#707070"/>
<path d="M408.4 116 C415.48 116 416.1 122 416.1 131 C416.1 137.15 409.94 149.45 408.4 151.5 C406.86 149.45 400.7 137.15 400.7 131 C400.7 122 401.32 116 408.4 116 Z" fill="#949494"/>
<path d="M408.4 120.5 C414.47 120.5 415 125.1 415 132 C415 136.35 409.72 145.05 408.4 146.5 C407.08 145.05 401.8 136.35 401.8 132 C401.8 125.1 402.33 120.5 408.4 120.5 Z" fill="#b2b2b2"/>
<path d="M408.4 124 C413.55 124 414 127.4 414 132.5 C414 135.5 409.52 141.5 408.4 142.5 C407.28 141.5 402.8 135.5 402.8 132.5 C402.8 127.4 403.25 124 408.4 124 Z" fill="#c9c9c9"/>
<path d="M408.4 127 C412.45 127 412.8 129.4 412.8 133 C412.8 134.65 409.28 137.95 408.4 138.5 C407.52 137.95 404 134.65 404 133 C404 129.4 404.35 127 408.4 127 Z" fill="#dbdbdb"/>
</g></g>
<text x="257.2" y="60.3" font-size="13" text-anchor="middle" font-weight="bold" fill="#000" textLength="25.4" lengthAdjust="spacingAndGlyphs" transform="rotate(-90 257.2 60.3)" >PBS</text>
<text transform="rotate(-90 257.2 134.1)" x="257.2" y="134.1" font-size="12.8" font-weight="bold" text-anchor="middle" fill="#000" textLength="68" lengthAdjust="spacingAndGlyphs">C<tspan font-size="8.4" dy="2.8">12</tspan><tspan dy="-2.8">-TPAE-L</tspan></text>
<text x="277.8" y="176.6" font-size="7.6" text-anchor="middle" font-weight="bold" fill="#000" >0</text>
<text x="303.8" y="176.6" font-size="7.6" text-anchor="middle" font-weight="bold" fill="#000" >1</text>
<text x="329.8" y="176.6" font-size="7.6" text-anchor="middle" font-weight="bold" fill="#000" >2</text>
<text x="355.8" y="176.6" font-size="7.6" text-anchor="middle" font-weight="bold" fill="#000" >3</text>
<text x="381.8" y="176.6" font-size="7.6" text-anchor="middle" font-weight="bold" fill="#000" >4</text>
<text x="407.8" y="176.6" font-size="7.6" text-anchor="middle" font-weight="bold" fill="#000" >5</text>
<text x="349" y="192.4" font-size="12.6" text-anchor="middle" font-weight="bold" fill="#000" textLength="63" lengthAdjust="spacingAndGlyphs" >Time (min)</text>
<rect x="428.5" y="36" width="5" height="121.5" fill="#fff" stroke="#101c70" stroke-width="1.1"/>
<rect x="429.6" y="37.1" width="2.8" height="119.3" fill="url(#cbar)"/>
<text x="422" y="33.2" font-size="8.9" text-anchor="start" font-weight="bold" fill="#000" textLength="18.8" lengthAdjust="spacingAndGlyphs" >65 &#176;C</text>
<text x="422.4" y="167" font-size="8.9" text-anchor="start" font-weight="bold" fill="#000" textLength="18.4" lengthAdjust="spacingAndGlyphs" >10 &#176;C</text>
<rect x="495.5" y="24.4" width="177.2" height="142.3" fill="none" stroke="#5a5a5a" stroke-width="1.1"/>
<line x1="503.4" y1="166.7" x2="503.4" y2="169.3" stroke="#5a5a5a" stroke-width="1" />
<line x1="534.16" y1="166.7" x2="534.16" y2="169.3" stroke="#5a5a5a" stroke-width="1" />
<line x1="564.92" y1="166.7" x2="564.92" y2="169.3" stroke="#5a5a5a" stroke-width="1" />
<line x1="595.68" y1="166.7" x2="595.68" y2="169.3" stroke="#5a5a5a" stroke-width="1" />
<line x1="626.44" y1="166.7" x2="626.44" y2="169.3" stroke="#5a5a5a" stroke-width="1" />
<line x1="657.2" y1="166.7" x2="657.2" y2="169.3" stroke="#5a5a5a" stroke-width="1" />
<line x1="518.78" y1="166.7" x2="518.78" y2="168.1" stroke="#5a5a5a" stroke-width="1" />
<line x1="549.54" y1="166.7" x2="549.54" y2="168.1" stroke="#5a5a5a" stroke-width="1" />
<line x1="580.3" y1="166.7" x2="580.3" y2="168.1" stroke="#5a5a5a" stroke-width="1" />
<line x1="611.06" y1="166.7" x2="611.06" y2="168.1" stroke="#5a5a5a" stroke-width="1" />
<line x1="641.82" y1="166.7" x2="641.82" y2="168.1" stroke="#5a5a5a" stroke-width="1" />
<line x1="493.1" y1="136.5" x2="495.5" y2="136.5" stroke="#5a5a5a" stroke-width="1" />
<line x1="493.1" y1="95.3" x2="495.5" y2="95.3" stroke="#5a5a5a" stroke-width="1" />
<line x1="493.1" y1="54.1" x2="495.5" y2="54.1" stroke="#5a5a5a" stroke-width="1" />
<line x1="494.2" y1="157.1" x2="495.5" y2="157.1" stroke="#5a5a5a" stroke-width="1" />
<line x1="494.2" y1="115.9" x2="495.5" y2="115.9" stroke="#5a5a5a" stroke-width="1" />
<line x1="494.2" y1="74.7" x2="495.5" y2="74.7" stroke="#5a5a5a" stroke-width="1" />
<line x1="494.2" y1="33.5" x2="495.5" y2="33.5" stroke="#5a5a5a" stroke-width="1" />
<text x="503.4" y="180.8" font-size="11.6" text-anchor="middle" textLength="6.4" lengthAdjust="spacingAndGlyphs" >0</text>
<text x="534.16" y="180.8" font-size="11.6" text-anchor="middle" textLength="19.2" lengthAdjust="spacingAndGlyphs" >200</text>
<text x="564.92" y="180.8" font-size="11.6" text-anchor="middle" textLength="19.2" lengthAdjust="spacingAndGlyphs" >400</text>
<text x="595.68" y="180.8" font-size="11.6" text-anchor="middle" textLength="19.2" lengthAdjust="spacingAndGlyphs" >600</text>
<text x="626.44" y="180.8" font-size="11.6" text-anchor="middle" textLength="19.2" lengthAdjust="spacingAndGlyphs" >800</text>
<text x="657.2" y="180.8" font-size="11.6" text-anchor="middle" textLength="25.6" lengthAdjust="spacingAndGlyphs" >1000</text>
<text x="491.3" y="140.3" font-size="11.6" text-anchor="end" textLength="12.9" lengthAdjust="spacingAndGlyphs" >20</text>
<text x="491.3" y="99.1" font-size="11.6" text-anchor="end" textLength="12.9" lengthAdjust="spacingAndGlyphs" >40</text>
<text x="491.3" y="57.9" font-size="11.6" text-anchor="end" textLength="12.9" lengthAdjust="spacingAndGlyphs" >60</text>
<text x="584.1" y="194.3" font-size="12" text-anchor="middle" textLength="43.8" lengthAdjust="spacingAndGlyphs" >Time (s)</text>
<text x="474.2" y="95.2" font-size="12" text-anchor="middle" textLength="91.5" lengthAdjust="spacingAndGlyphs" transform="rotate(-90 474.2 95.2)" >Temperature (&#176;C)</text>
<circle cx="503.4" cy="154.7" r="1.9" fill="url(#sp)"/>
<circle cx="508" cy="116.2" r="1.9" fill="url(#sp)"/>
<circle cx="512.6" cy="95" r="1.9" fill="url(#sp)"/>
<circle cx="517.3" cy="83.3" r="1.9" fill="url(#sp)"/>
<circle cx="521.9" cy="72.7" r="1.9" fill="url(#sp)"/>
<circle cx="526.5" cy="69.1" r="1.9" fill="url(#sp)"/>
<circle cx="531.1" cy="64.8" r="1.9" fill="url(#sp)"/>
<circle cx="535.7" cy="61.5" r="1.9" fill="url(#sp)"/>
<circle cx="540.3" cy="59.1" r="1.9" fill="url(#sp)"/>
<circle cx="544.9" cy="57.7" r="1.9" fill="url(#sp)"/>
<circle cx="549.5" cy="55.5" r="1.9" fill="url(#sp)"/>
<circle cx="554.2" cy="53.2" r="1.9" fill="url(#sp)"/>
<circle cx="558.8" cy="52" r="1.9" fill="url(#sp)"/>
<circle cx="563.4" cy="50.9" r="1.9" fill="url(#sp)"/>
<circle cx="568" cy="49.7" r="1.9" fill="url(#sp)"/>
<circle cx="572.6" cy="48.3" r="1.9" fill="url(#sp)"/>
<circle cx="577.2" cy="48.2" r="1.9" fill="url(#sp)"/>
<circle cx="581.8" cy="47.7" r="1.9" fill="url(#sp)"/>
<circle cx="586.5" cy="47.7" r="1.9" fill="url(#sp)"/>
<circle cx="591" cy="71.2" r="1.9" fill="url(#sp)"/>
<circle cx="595.7" cy="87.3" r="1.9" fill="url(#sp)"/>
<circle cx="600.3" cy="99.4" r="1.9" fill="url(#sp)"/>
<circle cx="604.9" cy="108.8" r="1.9" fill="url(#sp)"/>
<circle cx="609.5" cy="115.9" r="1.9" fill="url(#sp)"/>
<circle cx="614.1" cy="121.7" r="1.9" fill="url(#sp)"/>
<circle cx="618.7" cy="124.7" r="1.9" fill="url(#sp)"/>
<circle cx="623.3" cy="127.4" r="1.9" fill="url(#sp)"/>
<circle cx="628" cy="131.5" r="1.9" fill="url(#sp)"/>
<circle cx="632.6" cy="134" r="1.9" fill="url(#sp)"/>
<circle cx="637.2" cy="136.5" r="1.9" fill="url(#sp)"/>
<circle cx="641.8" cy="138.2" r="1.9" fill="url(#sp)"/>
<circle cx="646.4" cy="139.1" r="1.9" fill="url(#sp)"/>
<circle cx="651" cy="141" r="1.9" fill="url(#sp)"/>
<circle cx="655.6" cy="143.1" r="1.9" fill="url(#sp)"/>
<circle cx="660.2" cy="144.2" r="1.9" fill="url(#sp)"/>
<circle cx="664.8" cy="144.8" r="1.9" fill="url(#sp)"/>
<circle cx="669.4" cy="146.4" r="1.9" fill="url(#sp)"/>
<circle cx="594.1" cy="33.3" r="1.7" fill="url(#sp)"/>
<text x="606.6" y="37.6" font-size="10.6">C<tspan font-size="7.2" dy="2.4">12</tspan><tspan dy="-2.4">-TPAE-AL</tspan></text>
<rect x="40.5" y="219.8" width="176.6" height="142.4" fill="none" stroke="#5a5a5a" stroke-width="1.1"/>
<line x1="54.5" y1="362.2" x2="54.5" y2="364.8" stroke="#5a5a5a" stroke-width="1" />
<line x1="83.95" y1="362.2" x2="83.95" y2="364.8" stroke="#5a5a5a" stroke-width="1" />
<line x1="113.4" y1="362.2" x2="113.4" y2="364.8" stroke="#5a5a5a" stroke-width="1" />
<line x1="142.85" y1="362.2" x2="142.85" y2="364.8" stroke="#5a5a5a" stroke-width="1" />
<line x1="172.3" y1="362.2" x2="172.3" y2="364.8" stroke="#5a5a5a" stroke-width="1" />
<line x1="201.75" y1="362.2" x2="201.75" y2="364.8" stroke="#5a5a5a" stroke-width="1" />
<line x1="69.22" y1="362.2" x2="69.22" y2="363.6" stroke="#5a5a5a" stroke-width="1" />
<line x1="98.67" y1="362.2" x2="98.67" y2="363.6" stroke="#5a5a5a" stroke-width="1" />
<line x1="128.12" y1="362.2" x2="128.12" y2="363.6" stroke="#5a5a5a" stroke-width="1" />
<line x1="157.57" y1="362.2" x2="157.57" y2="363.6" stroke="#5a5a5a" stroke-width="1" />
<line x1="187.03" y1="362.2" x2="187.03" y2="363.6" stroke="#5a5a5a" stroke-width="1" />
<line x1="38.1" y1="351.1" x2="40.5" y2="351.1" stroke="#5a5a5a" stroke-width="1" />
<line x1="38.1" y1="307.34" x2="40.5" y2="307.34" stroke="#5a5a5a" stroke-width="1" />
<line x1="38.1" y1="263.58" x2="40.5" y2="263.58" stroke="#5a5a5a" stroke-width="1" />
<line x1="38.1" y1="219.82" x2="40.5" y2="219.82" stroke="#5a5a5a" stroke-width="1" />
<line x1="39.2" y1="329.22" x2="40.5" y2="329.22" stroke="#5a5a5a" stroke-width="1" />
<line x1="39.2" y1="285.46" x2="40.5" y2="285.46" stroke="#5a5a5a" stroke-width="1" />
<line x1="39.2" y1="241.7" x2="40.5" y2="241.7" stroke="#5a5a5a" stroke-width="1" />
<text x="54.5" y="376" font-size="11.6" text-anchor="middle" textLength="15.6" lengthAdjust="spacingAndGlyphs" >0.0</text>
<text x="83.95" y="376" font-size="11.6" text-anchor="middle" textLength="15.6" lengthAdjust="spacingAndGlyphs" >0.5</text>
<text x="113.4" y="376" font-size="11.6" text-anchor="middle" textLength="15.6" lengthAdjust="spacingAndGlyphs" >1.0</text>
<text x="142.85" y="376" font-size="11.6" text-anchor="middle" textLength="15.6" lengthAdjust="spacingAndGlyphs" >1.5</text>
<text x="172.3" y="376" font-size="11.6" text-anchor="middle" textLength="15.6" lengthAdjust="spacingAndGlyphs" >2.0</text>
<text x="201.75" y="376" font-size="11.6" text-anchor="middle" textLength="15.6" lengthAdjust="spacingAndGlyphs" >2.5</text>
<text x="35.3" y="354.9" font-size="11.6" text-anchor="end" textLength="6.45" lengthAdjust="spacingAndGlyphs" >0</text>
<text x="35.3" y="311.14" font-size="11.6" text-anchor="end" textLength="19.35" lengthAdjust="spacingAndGlyphs" >200</text>
<text x="35.3" y="267.38" font-size="11.6" text-anchor="end" textLength="19.35" lengthAdjust="spacingAndGlyphs" >400</text>
<text x="35.3" y="223.62" font-size="11.6" text-anchor="end" textLength="19.35" lengthAdjust="spacingAndGlyphs" >600</text>
<text x="128.3" y="390.3" font-size="12" text-anchor="middle" textLength="34.6" lengthAdjust="spacingAndGlyphs" >-Ln (&#952;)</text>
<text x="10.9" y="290.9" font-size="12" text-anchor="middle" textLength="43.4" lengthAdjust="spacingAndGlyphs" transform="rotate(-90 10.9 290.9)" >Time (s)</text>
<line x1="54.5" y1="350.4" x2="205.2" y2="242.4" stroke="#2a2a2a" stroke-width="1.1" />
<circle cx="54.5" cy="351.1" r="2.45" fill="url(#rs)"/>
<circle cx="69.4" cy="344.4" r="2.45" fill="url(#rs)"/>
<circle cx="81.5" cy="337.9" r="2.45" fill="url(#rs)"/>
<circle cx="93.5" cy="331.2" r="2.45" fill="url(#rs)"/>
<circle cx="104.5" cy="324.7" r="2.45" fill="url(#rs)"/>
<circle cx="114.4" cy="318.2" r="2.45" fill="url(#rs)"/>
<circle cx="123.9" cy="311.5" r="2.45" fill="url(#rs)"/>
<circle cx="129.8" cy="305.1" r="2.45" fill="url(#rs)"/>
<circle cx="135.2" cy="298.5" r="2.45" fill="url(#rs)"/>
<circle cx="144.7" cy="292" r="2.45" fill="url(#rs)"/>
<circle cx="151.8" cy="285.5" r="2.45" fill="url(#rs)"/>
<circle cx="159.1" cy="278.8" r="2.45" fill="url(#rs)"/>
<circle cx="165.5" cy="272.3" r="2.45" fill="url(#rs)"/>
<circle cx="168.5" cy="265.6" r="2.45" fill="url(#rs)"/>
<circle cx="176.7" cy="259" r="2.45" fill="url(#rs)"/>
<circle cx="185.5" cy="252.3" r="2.45" fill="url(#rs)"/>
<circle cx="191.9" cy="245.9" r="2.45" fill="url(#rs)"/>
<circle cx="195.6" cy="239.3" r="2.45" fill="url(#rs)"/>
<circle cx="204.9" cy="232.6" r="2.45" fill="url(#rs)"/>
<text x="52.3" y="237.3" font-size="10.6" textLength="63.4" lengthAdjust="spacingAndGlyphs">C<tspan font-size="7.2" dy="2.4">12</tspan><tspan dy="-2.4">-TPAE-AL</tspan></text>
<text x="131.4" y="320.3" font-size="10.6" text-anchor="start" textLength="65.3" lengthAdjust="spacingAndGlyphs" >Slope=194.28</text>
<text x="131.4" y="334.3" font-size="10.6">R<tspan font-size="7" dy="-4">2</tspan><tspan dy="4">=0.990</tspan></text>
<text x="131.4" y="348.3" font-size="10.6" text-anchor="start" >&#951;=62.4%</text>
<rect x="266.6" y="219.8" width="176.7" height="142.5" fill="none" stroke="#5a5a5a" stroke-width="1.1"/>
<line x1="274.5" y1="362.3" x2="274.5" y2="364.9" stroke="#5a5a5a" stroke-width="1" />
<line x1="308.26" y1="362.3" x2="308.26" y2="364.9" stroke="#5a5a5a" stroke-width="1" />
<line x1="342.02" y1="362.3" x2="342.02" y2="364.9" stroke="#5a5a5a" stroke-width="1" />
<line x1="375.78" y1="362.3" x2="375.78" y2="364.9" stroke="#5a5a5a" stroke-width="1" />
<line x1="409.54" y1="362.3" x2="409.54" y2="364.9" stroke="#5a5a5a" stroke-width="1" />
<line x1="443.3" y1="362.3" x2="443.3" y2="364.9" stroke="#5a5a5a" stroke-width="1" />
<line x1="291.38" y1="362.3" x2="291.38" y2="363.7" stroke="#5a5a5a" stroke-width="1" />
<line x1="325.14" y1="362.3" x2="325.14" y2="363.7" stroke="#5a5a5a" stroke-width="1" />
<line x1="358.9" y1="362.3" x2="358.9" y2="363.7" stroke="#5a5a5a" stroke-width="1" />
<line x1="392.66" y1="362.3" x2="392.66" y2="363.7" stroke="#5a5a5a" stroke-width="1" />
<line x1="426.42" y1="362.3" x2="426.42" y2="363.7" stroke="#5a5a5a" stroke-width="1" />
<line x1="264.2" y1="352" x2="266.6" y2="352" stroke="#5a5a5a" stroke-width="1" />
<line x1="264.2" y1="331.75" x2="266.6" y2="331.75" stroke="#5a5a5a" stroke-width="1" />
<line x1="264.2" y1="311.5" x2="266.6" y2="311.5" stroke="#5a5a5a" stroke-width="1" />
<line x1="264.2" y1="291.25" x2="266.6" y2="291.25" stroke="#5a5a5a" stroke-width="1" />
<line x1="264.2" y1="271" x2="266.6" y2="271" stroke="#5a5a5a" stroke-width="1" />
<line x1="264.2" y1="250.75" x2="266.6" y2="250.75" stroke="#5a5a5a" stroke-width="1" />
<line x1="264.2" y1="230.5" x2="266.6" y2="230.5" stroke="#5a5a5a" stroke-width="1" />
<line x1="265.3" y1="341.88" x2="266.6" y2="341.88" stroke="#5a5a5a" stroke-width="1" />
<line x1="265.3" y1="321.62" x2="266.6" y2="321.62" stroke="#5a5a5a" stroke-width="1" />
<line x1="265.3" y1="301.38" x2="266.6" y2="301.38" stroke="#5a5a5a" stroke-width="1" />
<line x1="265.3" y1="281.12" x2="266.6" y2="281.12" stroke="#5a5a5a" stroke-width="1" />
<line x1="265.3" y1="260.88" x2="266.6" y2="260.88" stroke="#5a5a5a" stroke-width="1" />
<line x1="265.3" y1="240.62" x2="266.6" y2="240.62" stroke="#5a5a5a" stroke-width="1" />
<text x="274.5" y="376.6" font-size="11.6" text-anchor="middle" textLength="6.45" lengthAdjust="spacingAndGlyphs" >0</text>
<text x="308.26" y="376.6" font-size="11.6" text-anchor="middle" textLength="25.8" lengthAdjust="spacingAndGlyphs" >1000</text>
<text x="342.02" y="376.6" font-size="11.6" text-anchor="middle" textLength="25.8" lengthAdjust="spacingAndGlyphs" >2000</text>
<text x="375.78" y="376.6" font-size="11.6" text-anchor="middle" textLength="25.8" lengthAdjust="spacingAndGlyphs" >3000</text>
<text x="409.54" y="376.6" font-size="11.6" text-anchor="middle" textLength="25.8" lengthAdjust="spacingAndGlyphs" >4000</text>
<text x="443.3" y="376.6" font-size="11.6" text-anchor="middle" textLength="25.8" lengthAdjust="spacingAndGlyphs" >5000</text>
<text x="261.8" y="355.8" font-size="11.6" text-anchor="end" textLength="12.9" lengthAdjust="spacingAndGlyphs" >10</text>
<text x="261.8" y="335.55" font-size="11.6" text-anchor="end" textLength="12.9" lengthAdjust="spacingAndGlyphs" >20</text>
<text x="261.8" y="315.3" font-size="11.6" text-anchor="end" textLength="12.9" lengthAdjust="spacingAndGlyphs" >30</text>
<text x="261.8" y="295.05" font-size="11.6" text-anchor="end" textLength="12.9" lengthAdjust="spacingAndGlyphs" >40</text>
<text x="261.8" y="274.8" font-size="11.6" text-anchor="end" textLength="12.9" lengthAdjust="spacingAndGlyphs" >50</text>
<text x="261.8" y="254.55" font-size="11.6" text-anchor="end" textLength="12.9" lengthAdjust="spacingAndGlyphs" >60</text>
<text x="261.8" y="234.3" font-size="11.6" text-anchor="end" textLength="12.9" lengthAdjust="spacingAndGlyphs" >70</text>
<text x="355" y="394.5" font-size="12" text-anchor="middle" textLength="43.4" lengthAdjust="spacingAndGlyphs" >Time (s)</text>
<text x="243.2" y="290.6" font-size="12" text-anchor="middle" textLength="93.6" lengthAdjust="spacingAndGlyphs" transform="rotate(-90 243.2 290.6)" >Temperature (&#176;C)</text>
<circle cx="274.5" cy="354.2" r="1.25" fill="#8c6ac0"/>
<circle cx="275.8" cy="347.2" r="1.25" fill="#8c6ac0"/>
<circle cx="276.8" cy="335.8" r="1.25" fill="#8c6ac0"/>
<circle cx="277.7" cy="313.3" r="1.25" fill="#8c6ac0"/>
<circle cx="278.6" cy="287.4" r="1.25" fill="#8c6ac0"/>
<circle cx="279.8" cy="279.7" r="1.25" fill="#8c6ac0"/>
<circle cx="280.9" cy="275.2" r="1.25" fill="#8c6ac0"/>
<circle cx="281.8" cy="270.6" r="1.25" fill="#8c6ac0"/>
<circle cx="282.9" cy="267" r="1.25" fill="#8c6ac0"/>
<circle cx="283.6" cy="264.5" r="1.25" fill="#8c6ac0"/>
<circle cx="284.8" cy="262" r="1.25" fill="#8c6ac0"/>
<circle cx="285.9" cy="260.2" r="1.25" fill="#8c6ac0"/>
<circle cx="287.1" cy="258.2" r="1.25" fill="#8c6ac0"/>
<circle cx="288.2" cy="256.4" r="1.25" fill="#8c6ac0"/>
<circle cx="289.4" cy="254.7" r="1.25" fill="#8c6ac0"/>
<circle cx="290.5" cy="253.3" r="1.25" fill="#8c6ac0"/>
<circle cx="292" cy="252.1" r="1.25" fill="#8c6ac0"/>
<circle cx="293.5" cy="251.7" r="1.25" fill="#8c6ac0"/>
<circle cx="295" cy="251.8" r="1.25" fill="#8c6ac0"/>
<circle cx="296.1" cy="265.8" r="1.25" fill="#8c6ac0"/>
<circle cx="297" cy="281.4" r="1.25" fill="#8c6ac0"/>
<circle cx="298" cy="292.3" r="1.25" fill="#8c6ac0"/>
<circle cx="299.1" cy="301.1" r="1.25" fill="#8c6ac0"/>
<circle cx="300.1" cy="309.3" r="1.25" fill="#8c6ac0"/>
<circle cx="301.1" cy="313.7" r="1.25" fill="#8c6ac0"/>
<circle cx="302" cy="316.9" r="1.25" fill="#8c6ac0"/>
<circle cx="303" cy="321.3" r="1.25" fill="#8c6ac0"/>
<circle cx="304.1" cy="325" r="1.25" fill="#8c6ac0"/>
<circle cx="305.2" cy="327.9" r="1.25" fill="#8c6ac0"/>
<circle cx="306.2" cy="330.7" r="1.25" fill="#8c6ac0"/>
<circle cx="307" cy="332.7" r="1.25" fill="#8c6ac0"/>
<circle cx="308.3" cy="333.6" r="1.25" fill="#8c6ac0"/>
<circle cx="309.6" cy="334.8" r="1.25" fill="#8c6ac0"/>
<circle cx="310.6" cy="336.1" r="1.25" fill="#8c6ac0"/>
<circle cx="311.7" cy="337.3" r="1.25" fill="#8c6ac0"/>
<circle cx="313" cy="338.6" r="1.25" fill="#8c6ac0"/>
<circle cx="314.6" cy="339.5" r="1.25" fill="#8c6ac0"/>
<circle cx="315.9" cy="339.5" r="1.25" fill="#8c6ac0"/>
<circle cx="316.1" cy="319.4" r="1.25" fill="#8c6ac0"/>
<circle cx="317.1" cy="299.1" r="1.25" fill="#8c6ac0"/>
<circle cx="318.14" cy="287.9" r="1.25" fill="#8c6ac0"/>
<circle cx="319.16" cy="277.2" r="1.25" fill="#8c6ac0"/>
<circle cx="320.18" cy="270.73" r="1.25" fill="#8c6ac0"/>
<circle cx="321.21" cy="266.3" r="1.25" fill="#8c6ac0"/>
<circle cx="322.23" cy="262.36" r="1.25" fill="#8c6ac0"/>
<circle cx="323.25" cy="259.06" r="1.25" fill="#8c6ac0"/>
<circle cx="324.27" cy="256.26" r="1.25" fill="#8c6ac0"/>
<circle cx="325.29" cy="254.12" r="1.25" fill="#8c6ac0"/>
<circle cx="326.31" cy="252.41" r="1.25" fill="#8c6ac0"/>
<circle cx="327.33" cy="251.18" r="1.25" fill="#8c6ac0"/>
<circle cx="328.35" cy="250.53" r="1.25" fill="#8c6ac0"/>
<circle cx="329.37" cy="250.06" r="1.25" fill="#8c6ac0"/>
<circle cx="330.39" cy="249.75" r="1.25" fill="#8c6ac0"/>
<circle cx="331.42" cy="249.43" r="1.25" fill="#8c6ac0"/>
<circle cx="332.44" cy="249.12" r="1.25" fill="#8c6ac0"/>
<circle cx="333.46" cy="248.81" r="1.25" fill="#8c6ac0"/>
<circle cx="334.48" cy="248.8" r="1.25" fill="#8c6ac0"/>
<circle cx="335.5" cy="248.8" r="1.25" fill="#8c6ac0"/>
<circle cx="336.5" cy="263.5" r="1.25" fill="#8c6ac0"/>
<circle cx="337.3" cy="279.4" r="1.25" fill="#8c6ac0"/>
<circle cx="338.5" cy="288.5" r="1.25" fill="#8c6ac0"/>
<circle cx="339.5" cy="297.6" r="1.25" fill="#8c6ac0"/>
<circle cx="340.5" cy="304.5" r="1.25" fill="#8c6ac0"/>
<circle cx="341.4" cy="310.2" r="1.25" fill="#8c6ac0"/>
<circle cx="342.4" cy="314.6" r="1.25" fill="#8c6ac0"/>
<circle cx="343.3" cy="319.7" r="1.25" fill="#8c6ac0"/>
<circle cx="344.3" cy="322.2" r="1.25" fill="#8c6ac0"/>
<circle cx="345.4" cy="324.8" r="1.25" fill="#8c6ac0"/>
<circle cx="346.4" cy="327.2" r="1.25" fill="#8c6ac0"/>
<circle cx="347.4" cy="329.8" r="1.25" fill="#8c6ac0"/>
<circle cx="348.7" cy="331.4" r="1.25" fill="#8c6ac0"/>
<circle cx="350.2" cy="332.9" r="1.25" fill="#8c6ac0"/>
<circle cx="351.7" cy="334.2" r="1.25" fill="#8c6ac0"/>
<circle cx="353" cy="335.7" r="1.25" fill="#8c6ac0"/>
<circle cx="354.6" cy="337" r="1.25" fill="#8c6ac0"/>
<circle cx="355.9" cy="337.7" r="1.25" fill="#8c6ac0"/>
<circle cx="356.6" cy="313.7" r="1.25" fill="#8c6ac0"/>
<circle cx="357.8" cy="300.1" r="1.25" fill="#8c6ac0"/>
<circle cx="358.62" cy="286.33" r="1.25" fill="#8c6ac0"/>
<circle cx="359.63" cy="278.07" r="1.25" fill="#8c6ac0"/>
<circle cx="360.64" cy="270.86" r="1.25" fill="#8c6ac0"/>
<circle cx="361.65" cy="265.28" r="1.25" fill="#8c6ac0"/>
<circle cx="362.66" cy="261.32" r="1.25" fill="#8c6ac0"/>
<circle cx="363.67" cy="258.99" r="1.25" fill="#8c6ac0"/>
<circle cx="364.68" cy="256.86" r="1.25" fill="#8c6ac0"/>
<circle cx="365.69" cy="255.08" r="1.25" fill="#8c6ac0"/>
<circle cx="366.71" cy="253.53" r="1.25" fill="#8c6ac0"/>
<circle cx="367.72" cy="252.12" r="1.25" fill="#8c6ac0"/>
<circle cx="368.73" cy="250.96" r="1.25" fill="#8c6ac0"/>
<circle cx="369.74" cy="249.91" r="1.25" fill="#8c6ac0"/>
<circle cx="370.75" cy="249.12" r="1.25" fill="#8c6ac0"/>
<circle cx="371.76" cy="248.41" r="1.25" fill="#8c6ac0"/>
<circle cx="372.77" cy="247.88" r="1.25" fill="#8c6ac0"/>
<circle cx="373.78" cy="247.47" r="1.25" fill="#8c6ac0"/>
<circle cx="374.79" cy="247.18" r="1.25" fill="#8c6ac0"/>
<circle cx="375.8" cy="246.9" r="1.25" fill="#8c6ac0"/>
<circle cx="377" cy="263.5" r="1.25" fill="#8c6ac0"/>
<circle cx="377.8" cy="279.4" r="1.25" fill="#8c6ac0"/>
<circle cx="379" cy="288.5" r="1.25" fill="#8c6ac0"/>
<circle cx="380" cy="297.6" r="1.25" fill="#8c6ac0"/>
<circle cx="381" cy="304.5" r="1.25" fill="#8c6ac0"/>
<circle cx="381.9" cy="310.2" r="1.25" fill="#8c6ac0"/>
<circle cx="382.9" cy="314.6" r="1.25" fill="#8c6ac0"/>
<circle cx="383.8" cy="319.7" r="1.25" fill="#8c6ac0"/>
<circle cx="384.8" cy="322.2" r="1.25" fill="#8c6ac0"/>
<circle cx="385.9" cy="324.8" r="1.25" fill="#8c6ac0"/>
<circle cx="386.9" cy="327.2" r="1.25" fill="#8c6ac0"/>
<circle cx="387.9" cy="329.8" r="1.25" fill="#8c6ac0"/>
<circle cx="389.2" cy="331.4" r="1.25" fill="#8c6ac0"/>
<circle cx="390.7" cy="332.9" r="1.25" fill="#8c6ac0"/>
<circle cx="392.2" cy="334.2" r="1.25" fill="#8c6ac0"/>
<circle cx="393.5" cy="335.7" r="1.25" fill="#8c6ac0"/>
<circle cx="395.1" cy="337" r="1.25" fill="#8c6ac0"/>
<circle cx="396.4" cy="337.7" r="1.25" fill="#8c6ac0"/>
<circle cx="397.1" cy="319.3" r="1.25" fill="#8c6ac0"/>
<circle cx="398.1" cy="299.8" r="1.25" fill="#8c6ac0"/>
<circle cx="399.14" cy="286.54" r="1.25" fill="#8c6ac0"/>
<circle cx="400.16" cy="277.22" r="1.25" fill="#8c6ac0"/>
<circle cx="401.18" cy="271.16" r="1.25" fill="#8c6ac0"/>
<circle cx="402.21" cy="265.88" r="1.25" fill="#8c6ac0"/>
<circle cx="403.23" cy="262.4" r="1.25" fill="#8c6ac0"/>
<circle cx="404.25" cy="258.86" r="1.25" fill="#8c6ac0"/>
<circle cx="405.27" cy="256.5" r="1.25" fill="#8c6ac0"/>
<circle cx="406.29" cy="254.75" r="1.25" fill="#8c6ac0"/>
<circle cx="407.31" cy="253.27" r="1.25" fill="#8c6ac0"/>
<circle cx="408.33" cy="252.2" r="1.25" fill="#8c6ac0"/>
<circle cx="409.35" cy="251.24" r="1.25" fill="#8c6ac0"/>
<circle cx="410.37" cy="250.44" r="1.25" fill="#8c6ac0"/>
<circle cx="411.39" cy="249.96" r="1.25" fill="#8c6ac0"/>
<circle cx="412.42" cy="249.71" r="1.25" fill="#8c6ac0"/>
<circle cx="413.44" cy="249.49" r="1.25" fill="#8c6ac0"/>
<circle cx="414.46" cy="249.39" r="1.25" fill="#8c6ac0"/>
<circle cx="415.48" cy="249.3" r="1.25" fill="#8c6ac0"/>
<circle cx="416.5" cy="249.2" r="1.25" fill="#8c6ac0"/>
<circle cx="417.5" cy="263.5" r="1.25" fill="#8c6ac0"/>
<circle cx="418.3" cy="279.4" r="1.25" fill="#8c6ac0"/>
<circle cx="419.5" cy="288.5" r="1.25" fill="#8c6ac0"/>
<circle cx="420.5" cy="297.6" r="1.25" fill="#8c6ac0"/>
<circle cx="421.5" cy="304.5" r="1.25" fill="#8c6ac0"/>
<circle cx="422.4" cy="310.2" r="1.25" fill="#8c6ac0"/>
<circle cx="423.4" cy="314.6" r="1.25" fill="#8c6ac0"/>
<circle cx="424.3" cy="319.7" r="1.25" fill="#8c6ac0"/>
<circle cx="425.3" cy="322.2" r="1.25" fill="#8c6ac0"/>
<circle cx="426.4" cy="324.8" r="1.25" fill="#8c6ac0"/>
<circle cx="427.4" cy="327.2" r="1.25" fill="#8c6ac0"/>
<circle cx="428.4" cy="329.8" r="1.25" fill="#8c6ac0"/>
<circle cx="429.7" cy="331.4" r="1.25" fill="#8c6ac0"/>
<circle cx="431.2" cy="332.9" r="1.25" fill="#8c6ac0"/>
<circle cx="432.7" cy="334.2" r="1.25" fill="#8c6ac0"/>
<circle cx="434" cy="335.7" r="1.25" fill="#8c6ac0"/>
<circle cx="435.6" cy="337" r="1.25" fill="#8c6ac0"/>
<circle cx="436.9" cy="337.7" r="1.25" fill="#8c6ac0"/>
<circle cx="281.6" cy="232.2" r="1.25" fill="#8c6ac0"/>
<text x="294.7" y="235.5" font-size="9.6" textLength="55.1" lengthAdjust="spacingAndGlyphs">C<tspan font-size="6.5" dy="2.2">12</tspan><tspan dy="-2.2">-TPAE-AL</tspan></text>
<rect x="495.5" y="219.8" width="177.3" height="140.3" fill="none" stroke="#5a5a5a" stroke-width="1.1"/>
<line x1="495.5" y1="360.1" x2="495.5" y2="362.7" stroke="#5a5a5a" stroke-width="1" />
<line x1="539.83" y1="360.1" x2="539.83" y2="362.7" stroke="#5a5a5a" stroke-width="1" />
<line x1="584.15" y1="360.1" x2="584.15" y2="362.7" stroke="#5a5a5a" stroke-width="1" />
<line x1="628.48" y1="360.1" x2="628.48" y2="362.7" stroke="#5a5a5a" stroke-width="1" />
<line x1="672.8" y1="360.1" x2="672.8" y2="362.7" stroke="#5a5a5a" stroke-width="1" />
<line x1="517.66" y1="360.1" x2="517.66" y2="361.5" stroke="#5a5a5a" stroke-width="1" />
<line x1="561.99" y1="360.1" x2="561.99" y2="361.5" stroke="#5a5a5a" stroke-width="1" />
<line x1="606.31" y1="360.1" x2="606.31" y2="361.5" stroke="#5a5a5a" stroke-width="1" />
<line x1="650.64" y1="360.1" x2="650.64" y2="361.5" stroke="#5a5a5a" stroke-width="1" />
<line x1="493.1" y1="348.5" x2="495.5" y2="348.5" stroke="#5a5a5a" stroke-width="1" />
<line x1="493.1" y1="325.1" x2="495.5" y2="325.1" stroke="#5a5a5a" stroke-width="1" />
<line x1="493.1" y1="301.7" x2="495.5" y2="301.7" stroke="#5a5a5a" stroke-width="1" />
<line x1="493.1" y1="278.3" x2="495.5" y2="278.3" stroke="#5a5a5a" stroke-width="1" />
<line x1="493.1" y1="254.9" x2="495.5" y2="254.9" stroke="#5a5a5a" stroke-width="1" />
<line x1="493.1" y1="231.5" x2="495.5" y2="231.5" stroke="#5a5a5a" stroke-width="1" />
<line x1="494.2" y1="336.8" x2="495.5" y2="336.8" stroke="#5a5a5a" stroke-width="1" />
<line x1="494.2" y1="313.4" x2="495.5" y2="313.4" stroke="#5a5a5a" stroke-width="1" />
<line x1="494.2" y1="290" x2="495.5" y2="290" stroke="#5a5a5a" stroke-width="1" />
<line x1="494.2" y1="266.6" x2="495.5" y2="266.6" stroke="#5a5a5a" stroke-width="1" />
<line x1="494.2" y1="243.2" x2="495.5" y2="243.2" stroke="#5a5a5a" stroke-width="1" />
<text x="495.5" y="374.4" font-size="11.6" text-anchor="middle" textLength="19.35" lengthAdjust="spacingAndGlyphs" >700</text>
<text x="539.83" y="374.4" font-size="11.6" text-anchor="middle" textLength="19.35" lengthAdjust="spacingAndGlyphs" >800</text>
<text x="584.15" y="374.4" font-size="11.6" text-anchor="middle" textLength="19.35" lengthAdjust="spacingAndGlyphs" >900</text>
<text x="628.48" y="374.4" font-size="11.6" text-anchor="middle" textLength="25.8" lengthAdjust="spacingAndGlyphs" >1000</text>
<text x="672.8" y="374.4" font-size="11.6" text-anchor="middle" textLength="25.8" lengthAdjust="spacingAndGlyphs" >1100</text>
<text x="491.4" y="352.3" font-size="11.6" text-anchor="end" textLength="15.6" lengthAdjust="spacingAndGlyphs" >0.0</text>
<text x="491.4" y="328.9" font-size="11.6" text-anchor="end" textLength="15.6" lengthAdjust="spacingAndGlyphs" >0.2</text>
<text x="491.4" y="305.5" font-size="11.6" text-anchor="end" textLength="15.6" lengthAdjust="spacingAndGlyphs" >0.4</text>
<text x="491.4" y="282.1" font-size="11.6" text-anchor="end" textLength="15.6" lengthAdjust="spacingAndGlyphs" >0.6</text>
<text x="491.4" y="258.7" font-size="11.6" text-anchor="end" textLength="15.6" lengthAdjust="spacingAndGlyphs" >0.8</text>
<text x="491.4" y="235.3" font-size="11.6" text-anchor="end" textLength="15.6" lengthAdjust="spacingAndGlyphs" >1.0</text>
<text x="584.5" y="389.2" font-size="12" text-anchor="middle" textLength="84" lengthAdjust="spacingAndGlyphs" >Wavelength (nm)</text>
<text x="467.6" y="283.6" font-size="12" text-anchor="middle" textLength="115.5" lengthAdjust="spacingAndGlyphs" transform="rotate(-90 467.6 283.6)" >Normalized Absorbance</text>
<path d="M495.6 343.6 C496.25 343.6 498.22 343.45 499.5 343.6 C500.78 343.75 502.03 344.07 503.3 344.5 C504.57 344.93 505.83 345.6 507.1 346.2 C508.37 346.8 509.5 347.7 510.9 348.1 C512.3 348.5 513.98 348.6 515.5 348.6 C517.02 348.6 518.37 348.43 520 348.1 C521.63 347.77 523.53 347.25 525.3 346.6 C527.07 345.95 528.95 345.42 530.6 344.2 C532.25 342.98 533.38 341.27 535.2 339.3 C537.02 337.33 539.4 335.03 541.5 332.4 C543.6 329.77 545.68 326.77 547.8 323.5 C549.92 320.23 552.08 316.47 554.2 312.8 C556.32 309.13 558.87 304.62 560.5 301.5 C562.13 298.38 562.75 296.6 564 294.1 C565.25 291.6 566.65 288.78 568 286.5 C569.35 284.22 570.75 282.18 572.1 280.4 C573.45 278.62 574.75 277 576.1 275.8 C577.45 274.6 578.85 273.82 580.2 273.2 C581.55 272.58 582.87 272.28 584.2 272.1 C585.53 271.92 586.02 271.82 588.2 272.1 C590.38 272.38 594.57 273.17 597.3 273.8 C600.03 274.43 602.17 275.18 604.6 275.9 C607.03 276.62 609.47 277.42 611.9 278.1 C614.33 278.78 616.77 279.48 619.2 280 C621.63 280.52 624.32 280.9 626.5 281.2 C628.68 281.5 630.6 281.77 632.3 281.8 C634 281.83 635.2 281.62 636.7 281.4 C638.2 281.18 639.48 280.97 641.3 280.5 C643.12 280.03 645.5 279.28 647.6 278.6 C649.7 277.92 652 277.08 653.9 276.4 C655.8 275.72 657.52 275.07 659 274.5 C660.48 273.93 661.8 273.07 662.8 273 C663.8 272.93 664.17 274.02 665 274.1 C665.83 274.18 666.92 273.55 667.8 273.5 C668.68 273.45 669.48 273.55 670.3 273.8 C671.12 274.05 672.3 274.8 672.7 275" fill="none" stroke="#3a3a3a" stroke-width="1.1"/>
<path d="M495.6 342 C496.25 341.88 498.22 341.25 499.5 341.3 C500.78 341.35 502.03 341.73 503.3 342.3 C504.57 342.87 505.83 343.87 507.1 344.7 C508.37 345.53 509.5 346.67 510.9 347.3 C512.3 347.93 513.98 348.37 515.5 348.5 C517.02 348.63 518.37 348.42 520 348.1 C521.63 347.78 523.53 347.25 525.3 346.6 C527.07 345.95 528.77 345.33 530.6 344.2 C532.43 343.07 534.3 341.68 536.3 339.8 C538.3 337.92 540.5 335.53 542.6 332.9 C544.7 330.27 546.78 327.27 548.9 324 C551.02 320.73 553.18 316.97 555.3 313.3 C557.42 309.63 559.97 305.12 561.6 302 C563.23 298.88 563.85 297.1 565.1 294.6 C566.35 292.1 567.75 289.28 569.1 287 C570.45 284.72 571.85 282.68 573.2 280.9 C574.55 279.12 575.85 277.5 577.2 276.3 C578.55 275.1 579.95 274.32 581.3 273.7 C582.65 273.08 583.97 272.78 585.3 272.6 C586.63 272.42 587.3 272.22 589.3 272.6 C591.3 272.98 594.75 274.17 597.3 274.9 C599.85 275.63 602.17 276.28 604.6 277 C607.03 277.72 609.47 278.52 611.9 279.2 C614.33 279.88 616.77 280.58 619.2 281.1 C621.63 281.62 624.32 282 626.5 282.3 C628.68 282.6 630.6 282.87 632.3 282.9 C634 282.93 635.2 282.72 636.7 282.5 C638.2 282.28 639.48 282.07 641.3 281.6 C643.12 281.13 645.5 280.38 647.6 279.7 C649.7 279.02 652 278.18 653.9 277.5 C655.8 276.82 657.52 276.17 659 275.6 C660.48 275.03 661.8 274.17 662.8 274.1 C663.8 274.03 664.17 275.12 665 275.2 C665.83 275.28 666.92 274.65 667.8 274.6 C668.68 274.55 669.48 274.65 670.3 274.9 C671.12 275.15 672.3 275.9 672.7 276.1" fill="none" stroke="#f03030" stroke-width="1.2"/>
<line x1="505.1" y1="233.2" x2="529.9" y2="233.2" stroke="#555" stroke-width="1" />
<line x1="505.1" y1="246.8" x2="529.9" y2="246.8" stroke="#f48c8c" stroke-width="1.5" />
<text x="533.3" y="237.1" font-size="9.8" text-anchor="start" textLength="52" lengthAdjust="spacingAndGlyphs" >Before laser</text>
<text x="532.9" y="250.6" font-size="9.8" text-anchor="start" textLength="43.7" lengthAdjust="spacingAndGlyphs" >After laser</text>
<text x="604.7" y="291.9" font-size="6.4" text-anchor="start" textLength="62.6" lengthAdjust="spacingAndGlyphs" >Before laser After laser</text>
<g filter="url(#soft)">
<rect x="610.2" y="295" width="23.5" height="63.3" fill="url(#ph1)"/>
<rect x="611.7" y="295.5" width="20.5" height="16" fill="#dde1e1"/>
<rect x="617.87" y="298.11" width="4.6" height="1" fill="#f2f4f4"/>
<rect x="626.57" y="297.32" width="4.33" height="1" fill="#b4b8b8"/>
<rect x="612.86" y="302.07" width="2.28" height="1" fill="#f2f4f4"/>
<rect x="621.84" y="296.83" width="4.26" height="1" fill="#b4b8b8"/>
<rect x="623.24" y="304.16" width="2.25" height="1" fill="#c4c8c8"/>
<rect x="613.07" y="299.1" width="4.23" height="1" fill="#b4b8b8"/>
<rect x="617.27" y="298.02" width="2.47" height="1" fill="#f8fafa"/>
<rect x="622" y="305.55" width="2.41" height="1" fill="#b4b8b8"/>
<rect x="618.72" y="303.67" width="2.25" height="1" fill="#f2f4f4"/>
<rect x="623.03" y="302.95" width="4.13" height="1" fill="#f8fafa"/>
<rect x="620.35" y="308.93" width="3.45" height="1" fill="#b4b8b8"/>
<rect x="626.1" y="305.79" width="2.98" height="1" fill="#f8fafa"/>
<rect x="621.39" y="308.25" width="4.92" height="1" fill="#f8fafa"/>
<rect x="622.86" y="297.02" width="4.05" height="1" fill="#b4b8b8"/>
<rect x="614.2" y="301.2" width="14.5" height="0.8" fill="#9a9e9e"/>
<path d="M614.9 311 L628.5 311 L628.3 327.2 C627.7 343.2 623.7 355 621.2 356.5 C618.7 355 615.7 343.2 615.1 327.2 Z" fill="url(#tb)"/>
<path d="M615.2 327.2 L628.2 327.2 C627.5 342.2 623.4 354.5 621.2 356 C619 354.5 615.9 342.2 615.2 327.2 Z" fill="url(#liq)"/>
<rect x="615.4" y="327.2" width="12.6" height="0.8" fill="#5a4450"/>
</g>
<g filter="url(#soft)">
<rect x="639.1" y="295" width="24" height="63.3" fill="url(#ph2)"/>
<rect x="640.6" y="295.5" width="21" height="16" fill="#dde1e1"/>
<rect x="654.73" y="298.13" width="3.96" height="1" fill="#f2f4f4"/>
<rect x="658.42" y="297.09" width="4.23" height="1" fill="#f8fafa"/>
<rect x="647.22" y="300.9" width="3.99" height="1" fill="#c4c8c8"/>
<rect x="642.34" y="297.31" width="3.08" height="1" fill="#f2f4f4"/>
<rect x="642.19" y="305.82" width="4.59" height="1" fill="#c4c8c8"/>
<rect x="646.22" y="301.4" width="4.67" height="1" fill="#f2f4f4"/>
<rect x="658.03" y="300.98" width="4.44" height="1" fill="#c4c8c8"/>
<rect x="642.16" y="306.76" width="2.52" height="1" fill="#b4b8b8"/>
<rect x="648.26" y="308.84" width="3.99" height="1" fill="#b4b8b8"/>
<rect x="649.19" y="303.69" width="5.53" height="1" fill="#c4c8c8"/>
<rect x="656.65" y="299.9" width="3.66" height="1" fill="#f8fafa"/>
<rect x="653.39" y="301.33" width="2.92" height="1" fill="#f2f4f4"/>
<rect x="644.27" y="299.25" width="2.93" height="1" fill="#c4c8c8"/>
<rect x="656.06" y="298.55" width="3.13" height="1" fill="#b4b8b8"/>
<rect x="643.1" y="301.2" width="15" height="0.8" fill="#9a9e9e"/>
<path d="M645.4 311 L658.3 311 L658.1 328.9 C657.5 344.9 653.8 355 651.3 356.5 C648.8 355 646.2 344.9 645.6 328.9 Z" fill="url(#tb)"/>
<path d="M645.7 328.9 L658 328.9 C657.3 343.9 653.5 354.5 651.3 356 C649.1 354.5 646.4 343.9 645.7 328.9 Z" fill="url(#liq)"/>
<rect x="645.9" y="328.9" width="11.9" height="0.8" fill="#5a4450"/>
</g>
<text x="-0.2" y="14.4" font-size="19.5" text-anchor="start" font-weight="bold" fill="#000" >(a)</text>
<text x="228.9" y="15.9" font-size="19.5" text-anchor="start" font-weight="bold" fill="#000" >(b)</text>
<text x="452" y="18.7" font-size="19.5" text-anchor="start" font-weight="bold" fill="#000" >(c)</text>
<text x="0.1" y="199.8" font-size="19.5" text-anchor="start" font-weight="bold" fill="#000" >(d)</text>
<text x="230" y="200.3" font-size="19.5" text-anchor="start" font-weight="bold" fill="#000" >(e)</text>
<text x="455" y="197" font-size="19.5" text-anchor="start" font-weight="bold" fill="#000" >(f)</text>
</svg>
</body></html>
